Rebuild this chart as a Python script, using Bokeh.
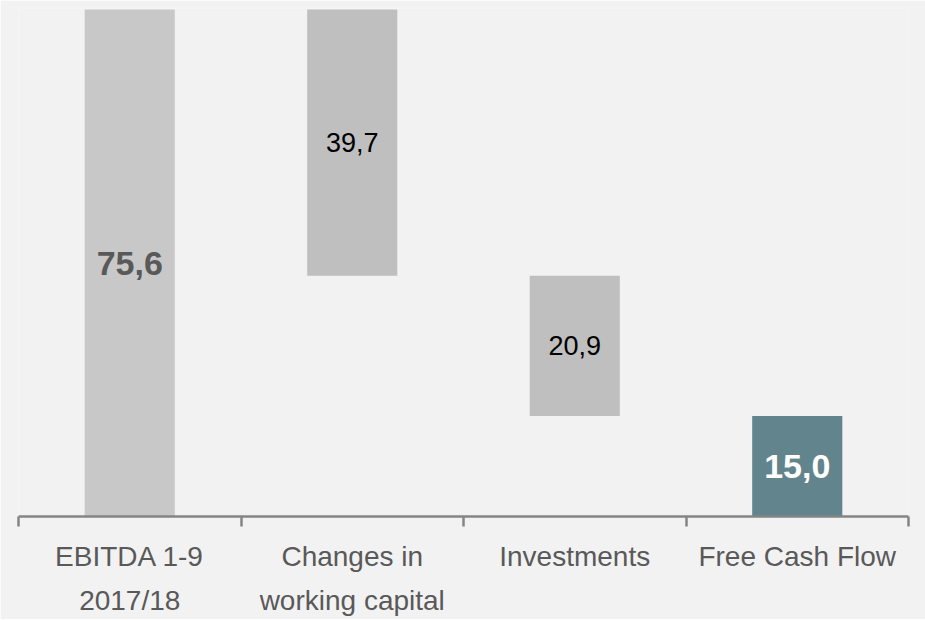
from bokeh.plotting import figure
from bokeh.models import ColumnDataSource, Range1d, FixedTicker
from bokeh.embed import file_html
from bokeh.resources import INLINE

categories = ["EBITDA 1-9\n2017/18", "Changes in\nworking capital", "Investments", "Free Cash Flow"]
values = [75.6, 39.7, 20.9, 15.0]
value_labels = ["75,6", "39,7", "20,9", "15,0"]
kinds = ["total", "decrease", "decrease", "total"]

FONT = "Liberation Sans"

# waterfall geometry from values
bottoms, tops = [], []
level = 0.0
for v, k in zip(values, kinds):
    if k == "total":
        bottoms.append(0.0)
        tops.append(v)
        level = v
    else:
        tops.append(level)
        level = level - v
        bottoms.append(level)

xs = [i + 0.5 for i in range(len(categories))]
colors = ["#c8c8c8", "#bfbfbf", "#bfbfbf", "#62848d"]
label_colors = ["#595959", "#000000", "#000000", "#ffffff"]
label_sizes = ["34px", "27px", "27px", "34px"]
label_styles = ["bold", "normal", "normal", "bold"]
mids = [(b + t) / 2 for b, t in zip(bottoms, tops)]

src = ColumnDataSource(dict(x=xs, bottom=bottoms, top=tops, color=colors,
                            label=value_labels, lc=label_colors, ls=label_sizes,
                            lst=label_styles, mid=mids))

p = figure(frame_width=890, frame_height=508, output_backend="svg", toolbar_location=None,
           x_range=Range1d(0, len(categories)), y_range=Range1d(0, 75.75),
           min_border_left=18, min_border_right=17, min_border_top=8, min_border_bottom=4)
p.background_fill_color = "#f2f2f2"
p.border_fill_color = "#f2f2f2"
p.outline_line_color = None
p.grid.visible = False
p.yaxis.visible = False

p.vbar(x="x", bottom="bottom", top="top", width=0.405, color="color", line_color=None, source=src)

p.text(x="x", y="mid", text="label", text_color="lc", text_font_size="ls",
       text_font_style="lst", text_align="center", text_baseline="middle",
       text_font={"value": FONT}, source=src)

ax = p.xaxis[0]
ax.ticker = FixedTicker(ticks=xs, minor_ticks=list(range(len(categories) + 1)))
ax.major_label_overrides = {x: c for x, c in zip(xs, categories)}
ax.major_tick_out = 0
ax.major_tick_in = 0
ax.minor_tick_out = 10
ax.minor_tick_in = 0
ax.minor_tick_line_color = "#858585"
ax.minor_tick_line_width = 2.5
ax.axis_line_color = "#858585"
ax.axis_line_width = 2.5
ax.major_label_text_font = FONT
ax.major_label_text_font_size = "28px"
ax.major_label_text_color = "#595959"
ax.major_label_standoff = 14
ax.major_label_text_line_height = 1.45

open("out.html", "w").write(file_html(p, INLINE))
